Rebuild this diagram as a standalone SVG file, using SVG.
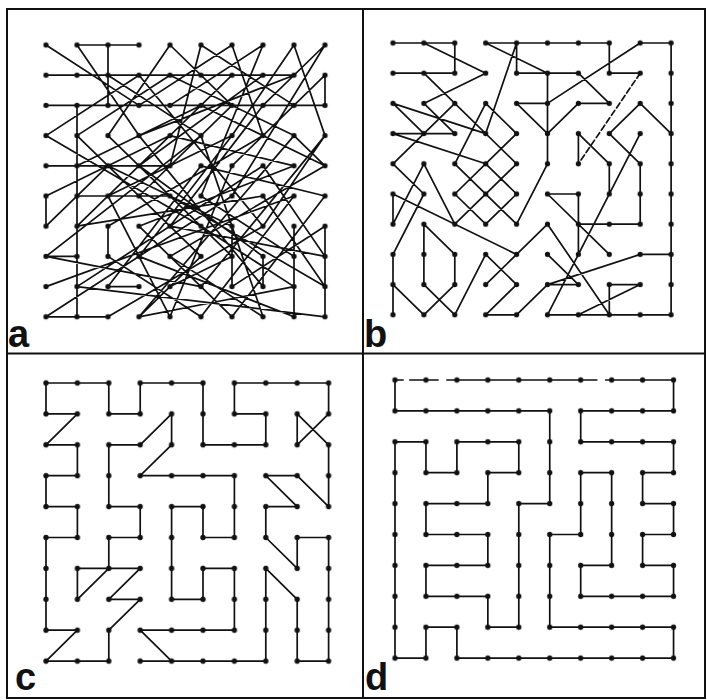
<svg xmlns="http://www.w3.org/2000/svg" width="707" height="700" viewBox="0 0 707 700">
<style>
.e{fill:none;stroke:#111;stroke-width:1.7;vector-effect:non-scaling-stroke;stroke-linejoin:round;stroke-linecap:round}
.frame{fill:none;stroke:#111;stroke-width:2}
.lbl{font-family:"Liberation Sans",Arial,sans-serif;font-weight:bold;font-size:38px;fill:#111}
</style>
<defs>
<pattern id="dots" patternUnits="userSpaceOnUse" x="-0.5" y="-0.5" width="1" height="1">
<ellipse cx="0.5" cy="0.5" rx="0.085" ry="0.087" fill="#111"/>
</pattern>
</defs>
<rect width="707" height="700" fill="#fff"/>
<g id="frame">
<rect class="frame" x="7" y="9" width="698" height="689"/>
<line class="frame" x1="363" y1="9" x2="363" y2="698"/>
<line class="frame" x1="7" y1="353.5" x2="705" y2="353.5"/>
</g>
<g id="panel-a" transform="translate(46,45) scale(31,30.2)">
<g id="connectors-a">
<path class="e" d="M1 0H3M2 0V2M0 1H8M0 2H9M0 4H4M1 5H4M1 2V9M0 5V6M9 1V2M9 6V9M7 7V8M8 6V9M6 6V8M2 6V7M2 8H3M0 9H2M0 7H1
M0 0L3 2M1 0L3 3M4 0L6 2M4 0L2 3M5 0L8 2M5 0L4 4M6 0L3 2M6 0L7 3M7 0L4 2M7 0L5 5M8 0L6 3M8 0L9 3M9 0L7 2M9 0L6 5M9 1L6 4
M0 3L3 1M0 3L5 6M1 3L5 7M1 3L4 1M2 3L6 7M3 3L7 8M3 3L8 1M4 3L1 6M4 3L8 4M5 3L0 7M5 3L7 9M6 3L3 7M7 3L2 6M8 3L3 9M8 3L9 4
M9 3L5 8M9 4L4 7M5 4L2 8M5 4L9 5M6 4L4 9M7 4L1 8M7 4L9 7M8 4L3 6M8 5L0 8M8 5L5 9M9 5L6 9M7 5L1 6M7 5L9 8M6 5L0 9M5 5L8 7
M4 6L9 7M4 6L7 2M5 6L8 8M7 6L2 9M7 6L9 3M3 6L6 9M4 7L7 9M5 7L3 9M6 7L4 8M3 7L8 9M1 8L9 9M5 8L0 7M6 1L2 5M7 1L3 4M2 1L5 3
M3 1L7 6M5 2L9 4M6 2L3 5M4 1L8 3M2 4L6 6M3 4L7 7M2 5L6 3M0 6L2 4M0 5L4 3M1 4L5 2M6 8L9 6M8 8L3 9M4 9L2 5M9 8L4 5M5 9L2 7"/>
</g>
<rect id="dots-a" x="-0.5" y="-0.5" width="10" height="10" fill="url(#dots)"/>
</g>
<g id="panel-b" transform="translate(393,43) scale(30.9,30.2)">
<g id="connectors-b">
<path class="e" d="M0 0H2V1H0M1 0L3 1L1 2L2 3M1 1L4 4M2 2L0 4L1 5L0 7V9M0 2L1 3M0 2L3 3M0 3H2M0 3L3 4M1 4L0 6V5L4 7M1 4L2 6
M0 8L1 9L2 8V7L1 6V8L2 9L3 7L4 8L3 9H4L5 8M3 8L5 6M3 0H7V1H8M8 0H9V9M8 0L5 2M3 0L5 1M4 0V1H6L7 2H6L5 3L4 2H5M4 0L3 3
M5 1V4L4 6M6 3V4M6 3L7 4V5M7 3L8 4V6M7 3L8 2L9 3M8 3L5 9M3 2L4 3L2 5L3 6L4 5L3 4M3 2L2 4L4 6M4 4L2 6
M5 5H6V7M5 5L7 7M6 6H8M5 6L7 9M5 7L6 8H5L8 7H9M5 9H9M6 9L8 8H7V9"/>
<path class="e" d="M8 1L6 4" stroke-dasharray="6 3"/>
</g>
<rect id="dots-b" x="-0.5" y="-0.5" width="10" height="10" fill="url(#dots)"/>
</g>
<g id="panel-c" transform="translate(46,383) scale(31.4,30.9)">
<g id="connectors-c">
<path class="e" d="M0 1V0H2V1H3V0H5V2H7V1H6V0H9V1L8 2V1L9 2V4L8 3H7L8 4H7V5L8 6V5H9V9H8V7L7 6V9H3M3 8L4 9
M3 8H6V6H5V7H4V4H5V5H6V3H3L4 2V1L3 2H2V4H3V5H2V6L1 7V6H3L2 7H3L2 8V9H0L1 8H0V5H1V4H0V3H1V2H0L1 1H0"/>
</g>
<rect id="dots-c" x="-0.5" y="-0.5" width="10" height="10" fill="url(#dots)"/>
</g>
<g id="panel-d" transform="translate(395,380) scale(30.95,30.9)">
<g id="connectors-d">
<path class="e" d="M0 0V1H5V4H4V8H3V7H1V6H3V5H1V4H3V3H4V2H2V3H1V2H0V9H1V8H2V9H9V8H5V5H6V3H7V6H6V7H9V6H8V5H9V4H8V3H9V2H6V1H9V0"/>
<path class="e" d="M0 0H0.26M0.48 0H1.39M1.68 0H6.52M6.81 0H9"/>
</g>
<rect id="dots-d" x="-0.5" y="-0.5" width="10" height="10" fill="url(#dots)"/>
</g>
<g id="labels">
<text class="lbl" x="8" y="347">a</text>
<text class="lbl" x="364" y="347">b</text>
<text class="lbl" x="15" y="690">c</text>
<text class="lbl" x="365" y="690">d</text>
</g>
</svg>
